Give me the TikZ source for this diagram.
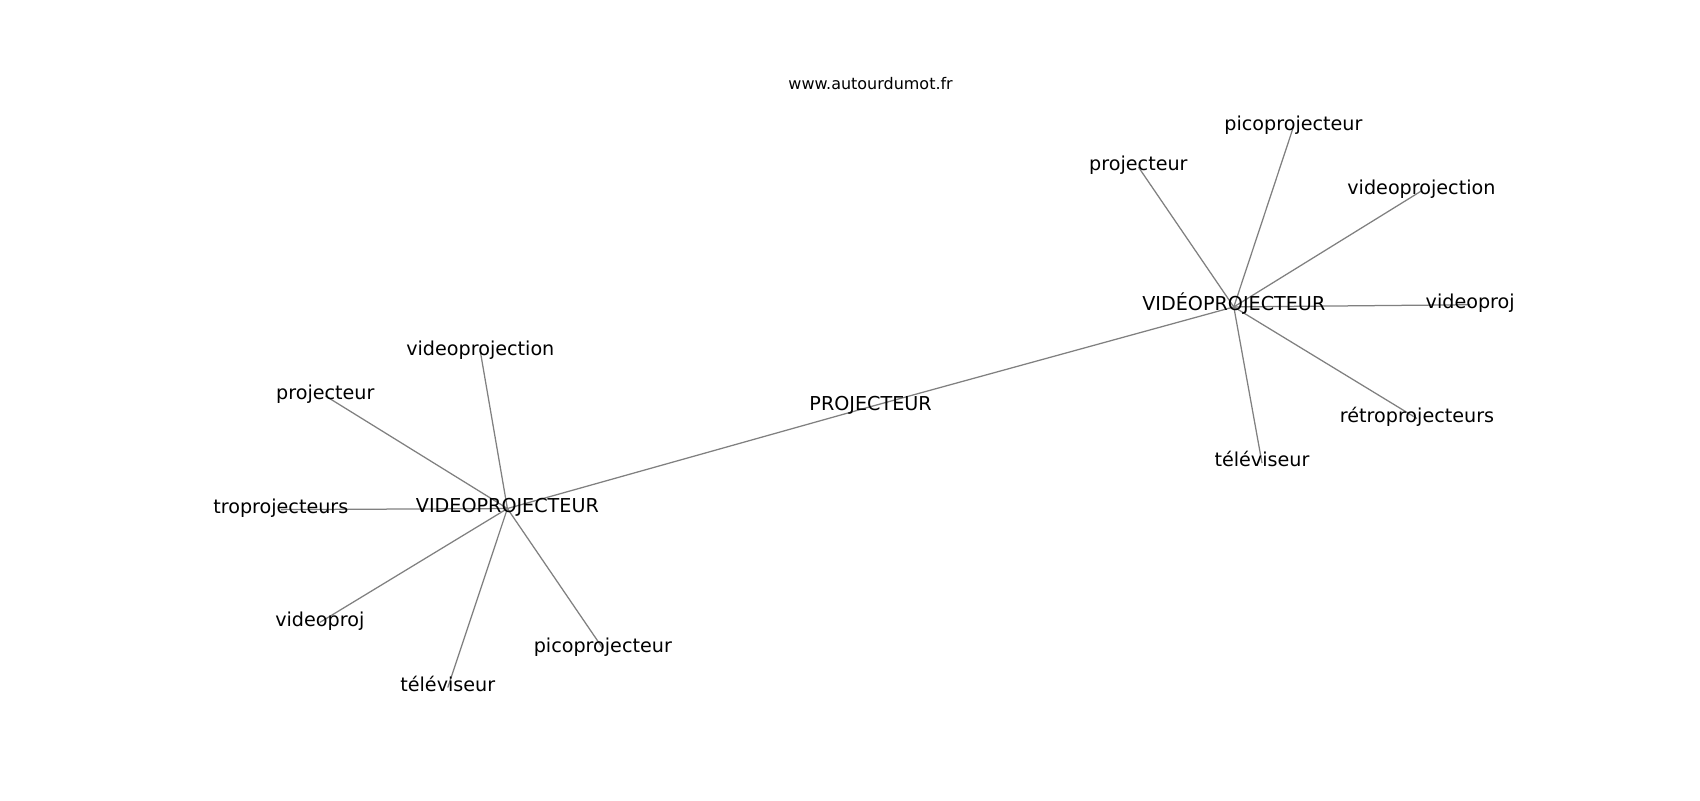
\documentclass[tikz,border=0pt]{standalone}
\usepackage{fontspec}
\setmainfont{DejaVu Sans}
\usetikzlibrary{backgrounds}
\tikzset{
  word/.style={inner sep=0pt, text height=0.76em, text depth=0.21em, font=\fontsize{13.8pt}{16pt}\selectfont, text=black},
  titletext/.style={inner sep=0pt, text height=0.76em, text depth=0.21em, font=\fontsize{11.5pt}{13pt}\selectfont, text=black},
  link/.style={draw=gray, line width=0.9pt}
}
\begin{document}
\begin{tikzpicture}[x=0.72pt, y=-0.72pt, yshift=-2.4pt]
\node[titletext] (title) at (870.6,82.4) {www.autourdumot.fr};
% left cluster
\node[word] (VP) at (507.4,505.2) {VIDEOPROJECTEUR};
\node[word] (lvproj) at (480.3,348.0) {videoprojection};
\node[word] (lproj) at (325.3,392.5) {projecteur};
\node[word] (ltro) at (280.8,506.3) {troprojecteurs};
\node[word] (lvp) at (319.8,619.1) {videoproj};
\node[word] (ltel) at (447.8,684.1) {téléviseur};
\node[word] (lpico) at (602.8,645.1) {picoprojecteur};
% middle
\node[word] (P) at (870.6,403.3) {PROJECTEUR};
% right cluster
\node[word] (VE) at (1233.8,303.6) {VIDÉOPROJECTEUR};
\node[word] (rproj) at (1138.4,163.7) {projecteur};
\node[word] (rpico) at (1293.4,123.6) {picoprojecteur};
\node[word] (rvproj) at (1421.4,187.6) {videoprojection};
\node[word] (rvp) at (1470.2,301.4) {videoproj};
\node[word] (rretro) at (1417.0,415.2) {rétroprojecteurs};
\node[word] (rtel) at (1262.0,459.7) {téléviseur};
\begin{scope}[on background layer]
\fill[white] (0,-3.33) rectangle (1700,796.67);
\useasboundingbox (0,-3.33) rectangle (1700,796.67);
\draw[link] (VP.center) -- (P.center);
\draw[link] (P.center) -- (VE.center);
\foreach \n in {lvproj,lproj,ltro,lvp,ltel,lpico}
  \draw[link] (VP.center) -- (\n.center);
\foreach \n in {rproj,rpico,rvproj,rvp,rretro,rtel}
  \draw[link] (VE.center) -- (\n.center);
\end{scope}
\end{tikzpicture}
\end{document}
